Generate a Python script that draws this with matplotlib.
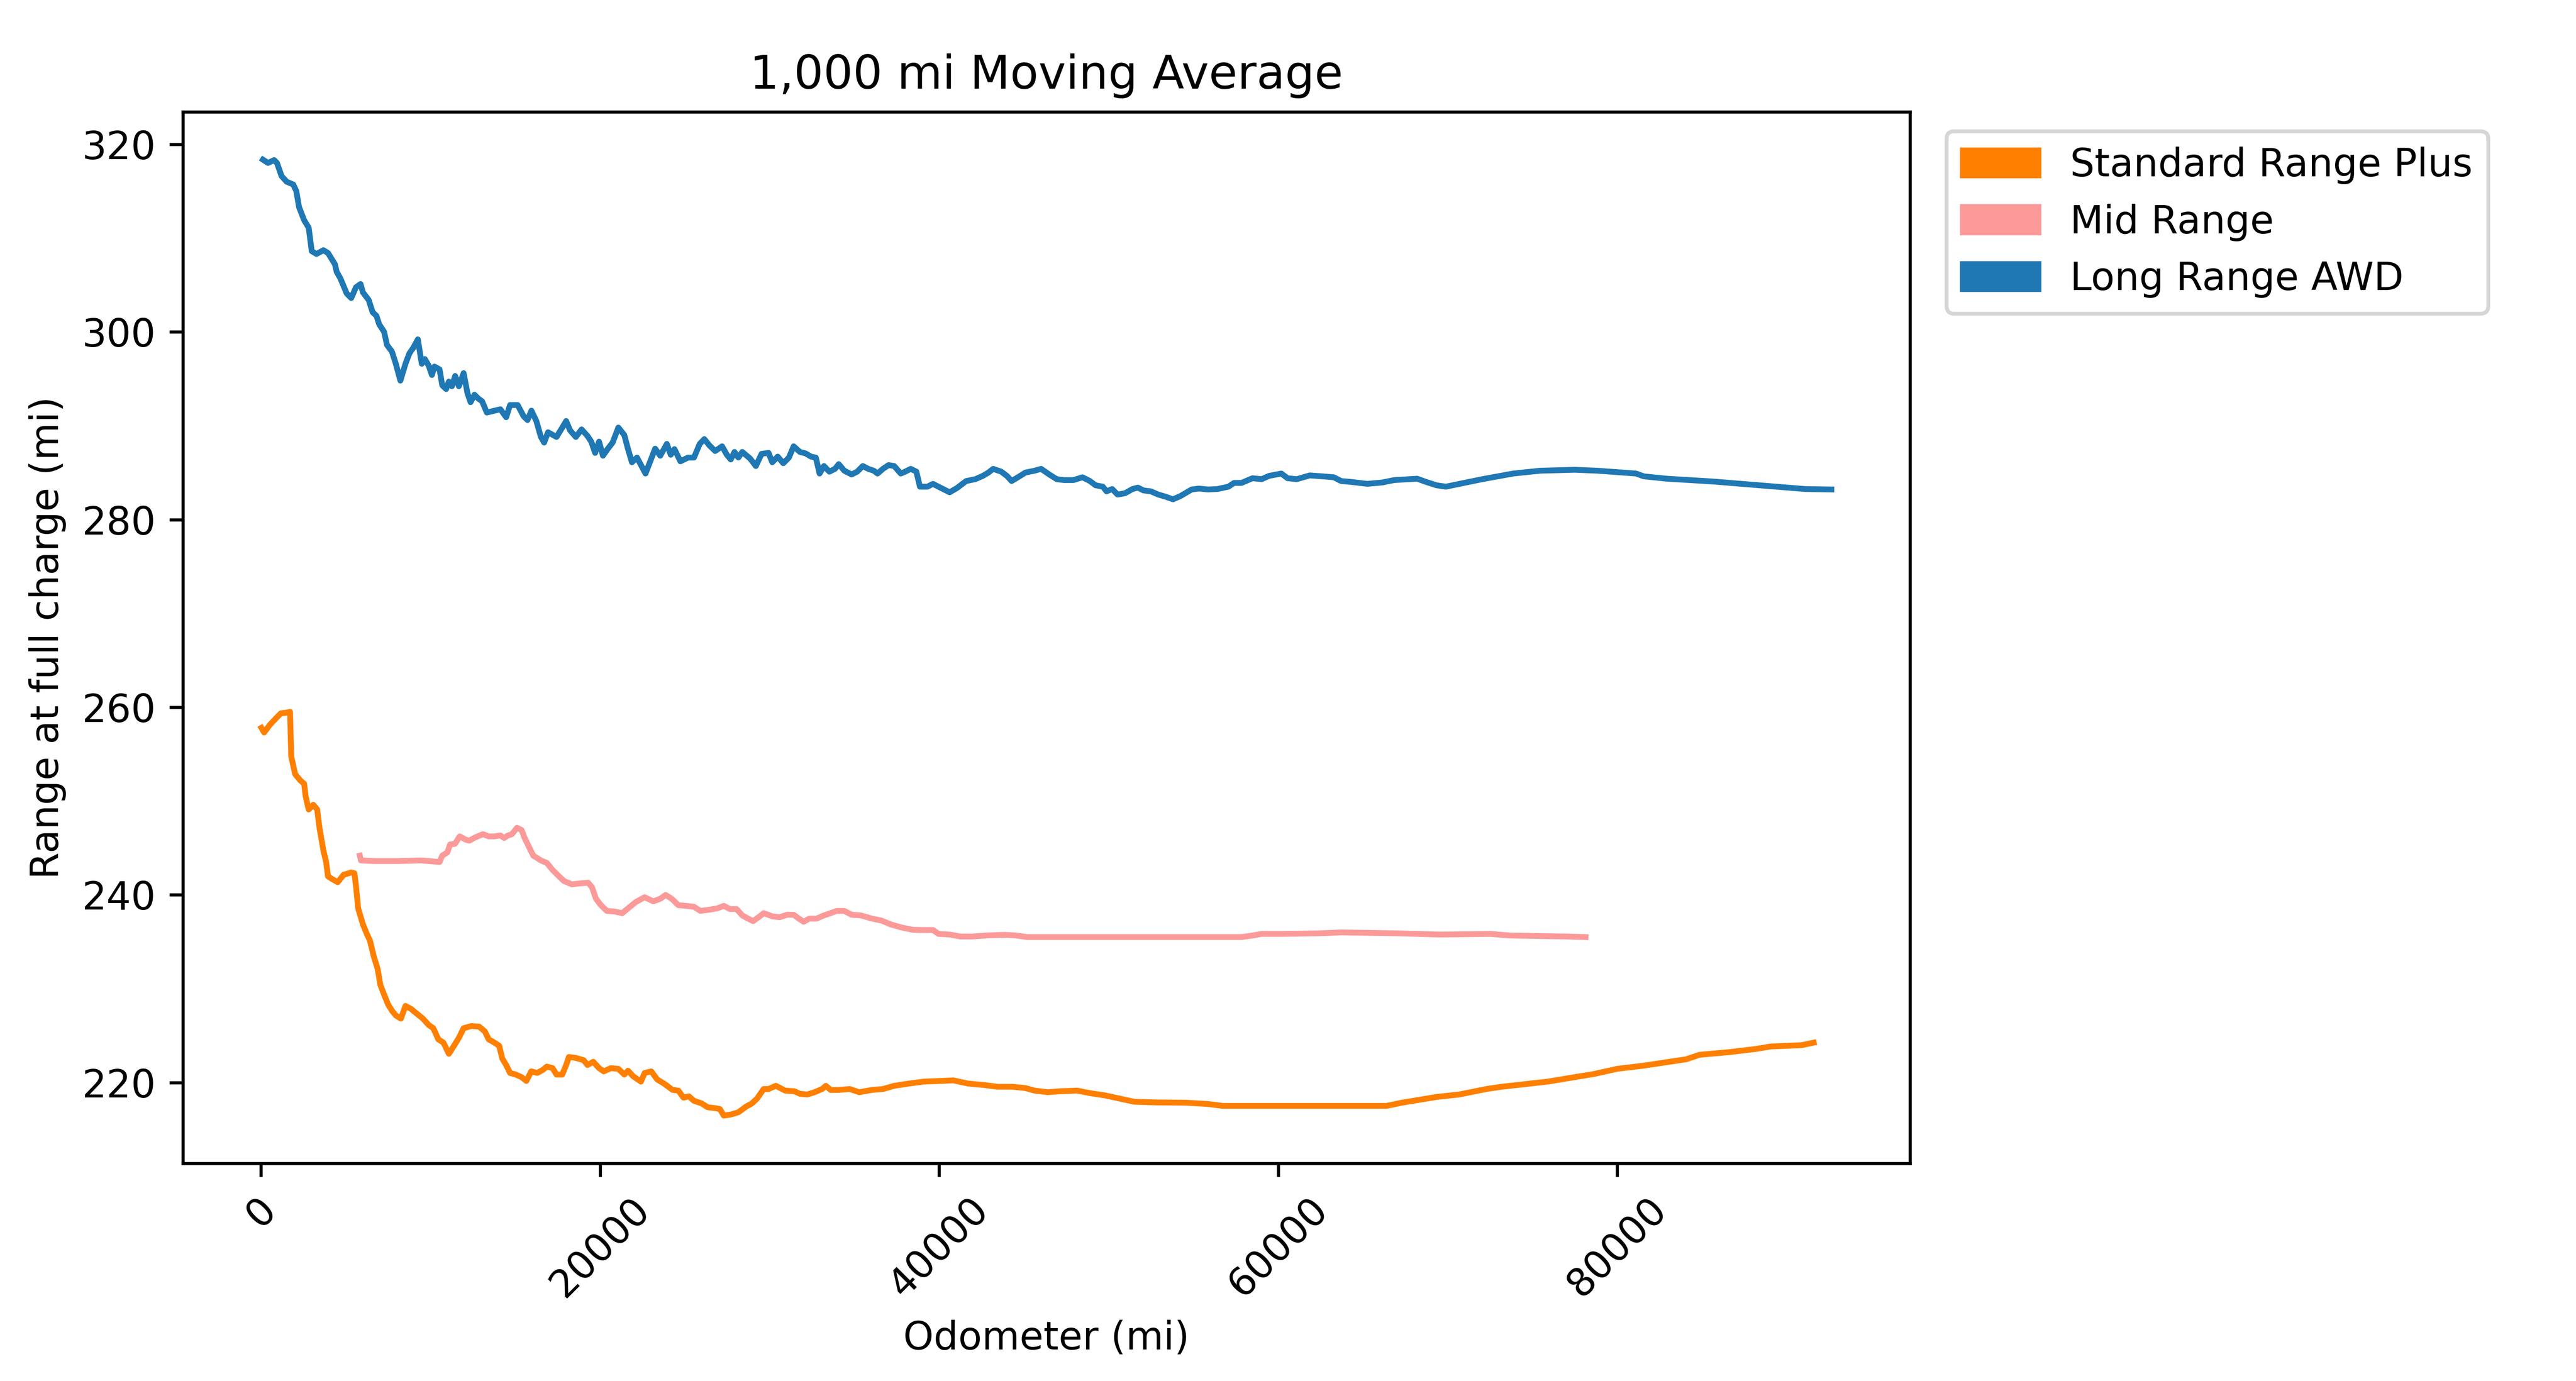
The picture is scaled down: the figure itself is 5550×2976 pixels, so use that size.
import matplotlib
matplotlib.use("Agg")
import matplotlib.pyplot as plt
import matplotlib.patches as mpatches
import numpy as np

# 1,000 mi moving average of range at full charge
# odometer values are in thousands of miles

# Long Range AWD
lr_odo_k = [0.11, 0.41, 0.77, 0.94, 1.21, 1.51, 1.90, 2.08, 2.24, 2.54, 2.81, 2.99, 3.27, 3.68, 3.95, 4.36, 4.46, 4.68,
            5.05, 5.32, 5.60, 5.87, 6.01, 6.35, 6.58, 6.81, 6.97, 7.26, 7.43, 7.72, 7.95, 8.22, 8.52, 8.75, 8.98, 9.25,
            9.48, 9.66, 9.89, 10.08, 10.23, 10.53, 10.69, 10.92, 11.08, 11.26, 11.45, 11.67, 11.95, 12.18, 12.36, 12.59,
            12.81, 13.04, 13.32, 13.77, 14.12, 14.46, 14.69, 15.14, 15.49, 15.72, 15.95, 16.24, 16.51, 16.70, 16.93,
            17.43, 17.77, 18.0, 18.23, 18.57, 18.91, 19.26, 19.48, 19.71, 19.94, 20.17, 20.44, 20.74, 21.08, 21.43,
            21.65, 21.88, 22.18, 22.68, 22.96, 23.25, 23.55, 23.94, 24.17, 24.39, 24.74, 25.19, 25.54, 25.88, 26.15,
            26.45, 26.79, 27.2, 27.48, 27.71, 27.93, 28.16, 28.39, 28.85, 29.19, 29.53,
            29.94, 30.16, 30.48, 30.81, 31.14, 31.42, 31.79, 32.12, 32.45, 32.73, 32.95, 33.21, 33.53, 33.86, 34.08,
            34.41, 34.84, 35.17, 35.5, 35.82, 36.15, 36.37, 36.69, 37.02, 37.35, 37.74, 38.0, 38.33, 38.66, 38.87,
            39.31, 39.64, 39.96, 40.29, 40.62, 41.05, 41.6, 42.14, 42.58, 42.91, 43.19, 43.67, 44.0, 44.28, 44.65,
            45.09, 45.63, 46.02, 46.5, 46.94, 47.37, 47.92, 48.46, 48.9, 49.23, 49.66, 49.88, 50.21, 50.53, 50.97,
            51.41, 51.73, 52.06, 52.5, 52.93, 53.37, 53.8, 54.24, 54.9, 55.33, 55.87, 56.42, 57.07, 57.4, 57.84,
            58.49, 59.03, 59.47, 60.19, 60.56, 61.1, 61.87, 62.63, 63.29, 63.72,
            64.35, 65.26, 66.16, 66.84, 68.2, 68.66, 69.34, 69.9, 70.7, 72.05, 73.87, 75.46, 77.5, 78.85, 81.12,
            81.58, 82.93, 85.66, 88.37, 91.09, 92.64]
lr_range = [318.35, 318.0, 318.3, 318.0, 316.6, 316.0, 315.7, 315.0, 313.3, 311.9, 311.1, 308.6, 308.3, 308.7, 308.4,
            307.2, 306.4, 305.7, 304.1, 303.6, 304.75, 305.1, 304.2, 303.4, 302.1, 301.7, 300.8, 300.0, 298.6, 297.9,
            296.6, 294.8, 296.6, 297.7, 298.3, 299.2, 296.6, 297.1, 296.4, 295.4, 296.3, 296.0, 294.3, 293.9, 294.7,
            294.2, 295.3, 294.2, 295.6, 293.45, 292.5, 293.3, 292.9, 292.6, 291.4, 291.6, 291.75, 290.9, 292.2, 292.2,
            291.0, 290.6, 291.6, 290.5, 288.8, 288.2, 289.3, 288.8, 289.8, 290.5, 289.5, 288.8, 289.6, 288.9, 288.3,
            287.1, 288.3, 286.8, 287.5, 288.2, 289.8, 289.0, 287.5, 286.1, 286.6, 284.9, 286.2, 287.55, 286.8, 288.06,
            286.9, 287.5, 286.2, 286.6, 286.6, 288.06, 288.57, 287.9, 287.3, 287.8, 286.9, 286.4, 287.2, 286.6, 287.2,
            286.5, 285.7, 287.0,
            287.1, 286.1, 286.7, 286.0, 286.6, 287.8, 287.2, 287.05, 286.7, 286.6, 284.9, 285.7, 285.1, 285.4, 285.9,
            285.2, 284.8, 285.1, 285.7, 285.4, 285.2, 284.9, 285.4, 285.8, 285.7, 284.9, 285.1, 285.4, 285.1, 283.5,
            283.5, 283.8, 283.5, 283.2, 282.9, 283.35, 284.1, 284.3, 284.65, 285.0, 285.4, 285.1, 284.65, 284.1, 284.5,
            285.0, 285.2, 285.4, 284.8, 284.3, 284.2, 284.2, 284.5, 284.1, 283.65, 283.5, 283.0, 283.25, 282.66, 282.8,
            283.25, 283.4, 283.1, 283.0, 282.66, 282.43, 282.15, 282.5, 283.2, 283.3, 283.2, 283.25, 283.5, 283.9,
            283.9, 284.4, 284.3, 284.65, 284.9, 284.4, 284.3, 284.7, 284.6, 284.5, 284.1,
            284.0, 283.8, 283.95, 284.2, 284.35, 284.05, 283.65, 283.5, 283.8, 284.3, 284.9, 285.2, 285.3, 285.2,
            284.9, 284.6, 284.35, 284.05, 283.65, 283.25, 283.2]

# Mid Range
mr_odo_k = [5.83, 5.89, 6.69, 8.06, 9.43, 10.53, 10.69, 10.99, 11.15, 11.44, 11.72, 12.06, 12.29, 12.63, 13.09, 13.43,
            13.77, 14.12, 14.34, 14.57, 14.8, 15.1, 15.37, 15.55, 15.78, 16.06, 16.51, 16.86, 17.2, 17.54, 17.88, 18.34,
            18.8, 19.3, 19.53, 19.76, 20.05, 20.4, 20.86, 21.31, 21.65, 22.11, 22.63, 23.14, 23.55, 23.87, 24.23,
            24.62, 25.08, 25.54, 25.92, 26.34, 26.91, 27.3, 27.66, 28.05, 28.39, 28.73, 29.03, 29.42, 29.65,
            30.16, 30.59, 31.03, 31.42, 31.73, 32.01, 32.34, 32.77, 33.21, 33.6, 33.97, 34.41, 34.84, 35.39, 36.04,
            36.59, 37.13, 37.79, 38.44, 39.09, 39.64, 39.97, 40.62, 41.27, 41.93, 42.8, 43.89, 44.54, 45.2, 47.16,
            51.52, 55.88, 57.84, 58.5, 59.04, 60.24, 62.42, 63.73,
            67.07, 69.57, 72.51, 73.65, 77.05, 78.14]
mr_range = [244.18, 243.67, 243.6, 243.6, 243.67, 243.5, 244.18, 244.52, 245.37, 245.44, 246.23, 245.89, 245.78,
            246.12, 246.47, 246.23, 246.23, 246.33, 246.06, 246.33, 246.47, 247.15, 246.91, 246.06, 245.2, 244.18,
            243.67, 243.4, 242.65, 242.04, 241.46, 241.12, 241.22, 241.29, 240.78, 239.58, 238.9, 238.29, 238.22,
            238.05, 238.56, 239.24, 239.75, 239.31, 239.58, 239.99, 239.58, 238.9, 238.83, 238.73, 238.29, 238.39,
            238.56, 238.83, 238.49, 238.49, 237.81, 237.47, 237.2, 237.71, 238.05,
            237.71, 237.61, 237.88, 237.88, 237.47, 237.13, 237.47, 237.47, 237.81, 238.05, 238.29, 238.29, 237.88,
            237.81, 237.47, 237.27, 236.86, 236.52, 236.28, 236.25, 236.25, 235.84, 235.77, 235.56, 235.56, 235.67,
            235.74, 235.67, 235.5, 235.5, 235.5, 235.5, 235.5, 235.67, 235.84, 235.84, 235.9, 236.0,
            235.9, 235.77, 235.84, 235.67, 235.56, 235.5]

# Standard Range Plus
sr_odo_k = [0.02, 0.18, 0.53, 0.87, 1.17, 1.44, 1.71, 1.78, 2.01, 2.31, 2.54, 2.63, 2.81, 3.08, 3.31, 3.45, 3.68, 3.84,
            3.95, 4.18, 4.52, 4.87, 5.32, 5.51, 5.6, 5.73, 6.01, 6.24, 6.42, 6.65, 6.88, 7.04, 7.26, 7.49, 7.72, 7.95,
            8.25, 8.52, 8.86, 9.2, 9.55, 9.89, 10.16, 10.46, 10.76, 11.08, 11.38, 11.67, 11.95, 12.4, 12.86, 13.2,
            13.43, 13.77, 14.05, 14.23, 14.46, 14.69, 15.03, 15.37, 15.65, 15.94, 16.29, 16.63, 16.86, 17.2, 17.43,
            17.77, 18.0, 18.16, 18.57, 19.03, 19.26, 19.6, 19.94, 20.22, 20.63, 21.08, 21.43, 21.65, 21.95, 22.41,
            22.63, 23.02, 23.37, 23.82, 24.28, 24.62, 24.92, 25.24, 25.54, 25.99, 26.34, 26.79, 27.07, 27.3, 27.71,
            28.16, 28.62, 28.96, 29.26, 29.65,
            29.94, 30.37, 30.92, 31.46, 31.79, 32.23, 32.66, 33.1, 33.32, 33.6, 34.08, 34.73, 35.28, 36.04, 36.7,
            37.35, 38.22, 39.09, 39.97, 40.84, 41.71, 42.58, 43.45, 44.33, 45.09, 45.63, 46.4, 47.16, 48.14, 48.9,
            49.78, 50.65, 51.52, 52.83, 54.57, 55.88, 56.75, 58.06, 63.9,
            66.39, 67.3, 69.34, 70.7, 72.29, 73.19, 75.92, 77.05, 78.64, 80.0, 81.58, 84.08, 84.87, 86.57, 88.16,
            89.06, 90.88, 91.6]
sr_range = [257.8, 257.3, 258.15, 258.8, 259.35, 259.4, 259.5, 254.75, 252.87, 252.2, 251.85, 250.5, 249.1, 249.6,
            249.1, 247.1, 244.7, 243.5, 241.97, 241.7, 241.35, 242.14, 242.38, 242.3, 240.95, 238.56, 236.86, 235.84,
            235.15, 233.45, 232.09, 230.39, 229.36, 228.34, 227.66, 227.15, 226.81, 228.17, 227.83, 227.32, 226.81,
            226.13, 225.79, 224.6, 224.25, 223.06, 223.91, 224.76, 225.79, 226.02, 225.96, 225.45, 224.6, 224.25,
            223.91, 222.55, 221.87, 221.02, 220.85, 220.57, 220.17, 221.19, 221.02, 221.36, 221.7, 221.53, 220.85,
            220.85, 221.87, 222.72, 222.62, 222.38, 221.87, 222.21, 221.53, 221.19, 221.53, 221.46, 220.85, 221.26,
            220.67, 220.1, 221.02, 221.19, 220.33, 219.83, 219.21, 219.14, 218.39, 218.53, 218.05, 217.78, 217.37,
            217.27, 217.17, 216.48, 216.59, 216.83, 217.44, 217.78, 218.29, 219.31,
            219.31, 219.65, 219.14, 219.07, 218.8, 218.73, 218.97, 219.31, 219.65, 219.21, 219.21, 219.31, 218.97,
            219.21, 219.31, 219.65, 219.89, 220.1, 220.16, 220.23, 219.89, 219.75, 219.55, 219.55, 219.41, 219.14,
            218.97, 219.07, 219.14, 218.87, 218.63, 218.29, 217.95, 217.88, 217.85, 217.71, 217.51, 217.51, 217.51,
            217.51, 217.85, 218.46, 218.73, 219.31, 219.55, 220.1, 220.44, 220.91, 221.46, 221.8, 222.48, 222.96,
            223.23, 223.57, 223.84, 223.98, 224.25]

labels = ["Standard Range Plus", "Mid Range", "Long Range AWD"]
colors = ["#ff7f00", "#fb9a99", "#1f78b4"]

fig = plt.figure(figsize=(9.25, 4.96), dpi=600)
ax = fig.add_axes([0.0710, 0.1576, 0.6704, 0.7614])

# draw the moving averages
ax.plot(np.array(lr_odo_k) * 1000, lr_range, color=colors[2], linewidth=1.5)
ax.plot(np.array(mr_odo_k) * 1000, mr_range, color=colors[1], linewidth=1.5)
ax.plot(np.array(sr_odo_k) * 1000, sr_range, color=colors[0], linewidth=1.5)

ax.set_title("1,000 mi Moving Average")
ax.set_xlabel("Odometer (mi)")
ax.set_ylabel("Range at full charge (mi)")
plt.setp(ax.get_xticklabels(), rotation=45)

handles = [mpatches.Patch(color=c, label=l) for c, l in zip(colors, labels)]
ax.legend(handles=handles, loc="upper left", bbox_to_anchor=(1.01, 1))

fig.savefig("out.png", dpi=600)
